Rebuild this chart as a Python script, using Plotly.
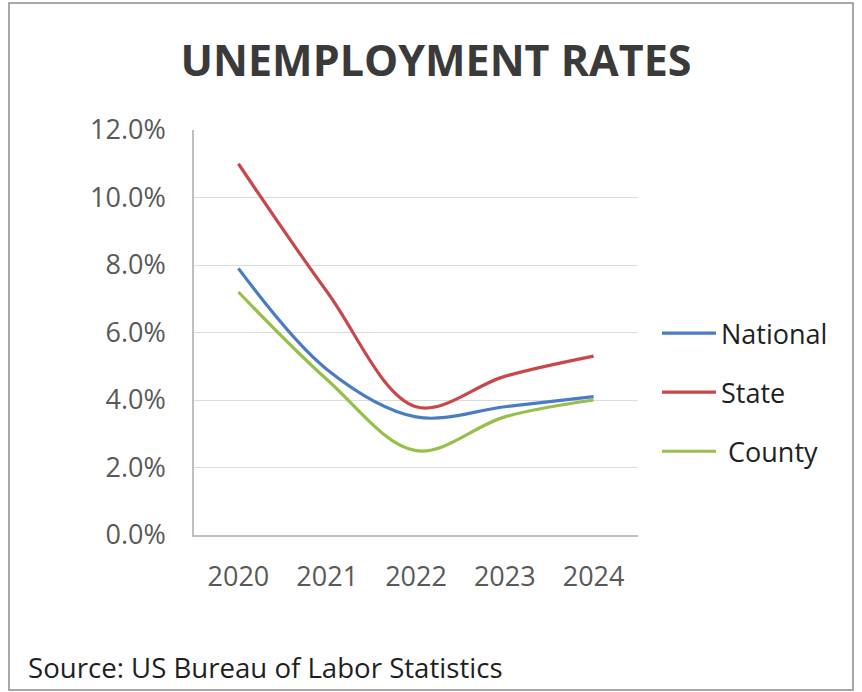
import plotly.graph_objects as go

years = ["2020", "2021", "2022", "2023", "2024"]
national = [7.9, 4.9, 3.5, 3.8, 4.1]
state = [11.0, 7.2, 3.8, 4.7, 5.3]
county = [7.2, 4.6, 2.5, 3.5, 4.0]
y_ticks = [0, 2, 4, 6, 8, 10, 12]
y_tick_labels = [f"{v:.1f}%" for v in y_ticks]

series = [
    ("National", national, "#4a7cc6"),
    ("State", state, "#c8474b"),
    ("County", county, "#98bf4a"),
]

fig = go.Figure()
for i, (name, vals, color) in enumerate(series):
    fig.add_trace(go.Scatter(
        x=years, y=vals, mode="lines", name=name if name != "County" else " County",
        line=dict(color=color, width=3.2, shape="spline", smoothing=1.0),
        legendgroup=f"g{i}",
    ))

W, H = 862, 692
L, R, T, B = 194, 638, 130, 535
pw, ph = R - L, B - T

def px(x):
    return (x - L) / pw

def py(y):
    return (B - y) / ph

fig.update_layout(
    width=W, height=H,
    margin=dict(l=L, r=W - R, t=T, b=H - B),
    paper_bgcolor="white", plot_bgcolor="white",
    font=dict(family="Open Sans", color="#595959"),
    title=dict(text="<b>UNEMPLOYMENT RATES</b>", x=436 / W, xanchor="center",
               y=1 - 61 / H, yanchor="middle",
               font=dict(family="Open Sans", size=43, color="#3a3a3a")),
    xaxis=dict(type="category", range=[-0.5, 4.5], showgrid=False,
               showline=True, linecolor="#bfbfbf", linewidth=1.5,
               tickfont=dict(size=27, color="#595959"), ticks="",
               ticklabelstandoff=17),
    yaxis=dict(range=[0, 12], tickmode="array", tickvals=y_ticks, ticktext=y_tick_labels,
               showgrid=True, gridcolor="#dcdcdc", gridwidth=1.2,
               showline=True, linecolor="#bfbfbf", linewidth=1.5,
               zeroline=False, tickfont=dict(size=27, color="#595959"),
               ticks="", ticklabelstandoff=21),
    legend=dict(x=px(657), y=py(309), xanchor="left", yanchor="top",
                font=dict(size=27, color="#1f1f1f"), itemwidth=54,
                tracegroupgap=21, bgcolor="rgba(0,0,0,0)"),
    showlegend=True,
    shapes=[dict(type="rect", xref="paper", yref="paper",
                 x0=px(9), x1=px(853), y0=py(690), y1=py(3),
                 line=dict(color="#8c8c8c", width=1.5))],
    annotations=[dict(text="Source: US Bureau of Labor Statistics", xref="paper", yref="paper",
                      x=px(26), y=py(667), xanchor="left", yanchor="middle", showarrow=False,
                      font=dict(family="Open Sans", size=27.6, color="#1f1f1f"))],
)

fig.write_html("out.html")
